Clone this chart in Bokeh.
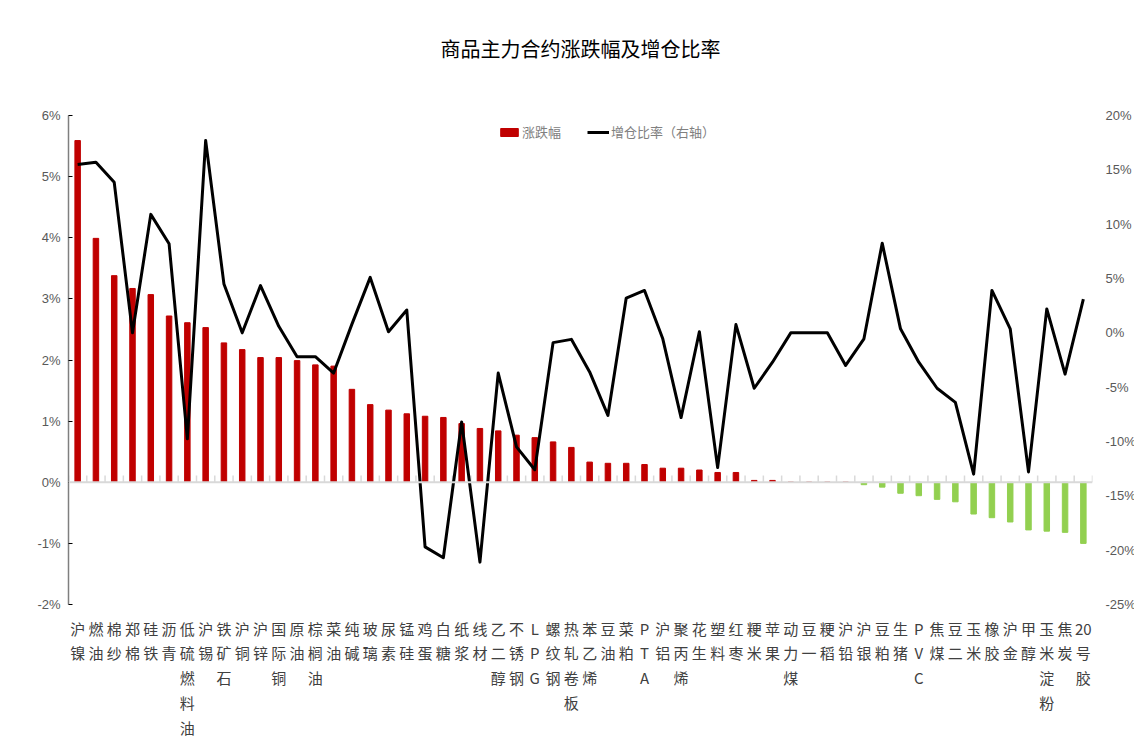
from bokeh.plotting import figure
from bokeh.models import (Range1d, LinearAxis, FixedTicker, Span, Legend, LegendItem,
                          CustomJSTickFormatter, Title)
from bokeh.embed import file_html
from bokeh.resources import INLINE

chart_title = "商品主力合约涨跌幅及增仓比率"

categories = ["沪镍", "燃油", "棉纱", "郑棉", "硅铁", "沥青", "低硫燃料油", "沪锡", "铁矿石", "沪铜",
              "沪锌", "国际铜", "原油", "棕榈油", "菜油", "纯碱", "玻璃", "尿素", "锰硅", "鸡蛋",
              "白糖", "纸浆", "线材", "乙二醇", "不锈钢", "LPG", "螺纹钢", "热轧卷板", "苯乙烯", "豆油",
              "菜粕", "PTA", "沪铝", "聚丙烯", "花生", "塑料", "红枣", "粳米", "苹果", "动力煤",
              "豆一", "粳稻", "沪铅", "沪银", "豆粕", "生猪", "PVC", "焦煤", "豆二", "玉米",
              "橡胶", "沪金", "甲醇", "玉米淀粉", "焦炭", "20号胶"]

change_pct = [5.59, 3.99, 3.38, 3.17, 3.07, 2.72, 2.61, 2.53, 2.28, 2.17,
              2.04, 2.04, 1.99, 1.92, 1.90, 1.52, 1.27, 1.18, 1.12, 1.08,
              1.06, 0.96, 0.88, 0.84, 0.77, 0.73, 0.66, 0.57, 0.33, 0.31,
              0.31, 0.29, 0.23, 0.23, 0.20, 0.16, 0.16, 0.03, 0.03, 0.0,
              0.0, 0.0, 0.0, -0.04, -0.08, -0.18, -0.22, -0.28, -0.32, -0.52,
              -0.58, -0.65, -0.78, -0.80, -0.82, -1.00]

oi_ratio = [15.5, 15.7, 13.85, 0.0, 10.9, 8.2, -9.75, 17.7, 4.5, 0.0,
            4.35, 0.6, -2.2, -2.2, -3.7, 0.8, 5.1, 0.1, 2.1, -19.7,
            -20.7, -8.2, -21.1, -3.7, -10.5, -12.6, -0.9, -0.6, -3.6, -7.6,
            3.2, 3.9, -0.55, -7.8, 0.1, -12.4, 0.76, -5.1, -2.7, 0.0,
            0.0, 0.0, -3.0, -0.55, 8.25, 0.37, -2.7, -5.1, -6.4, -13.0,
            3.9, 0.37, -12.8, 2.2, -3.8, 3.1]

left_ticks = [-2, -1, 0, 1, 2, 3, 4, 5, 6]
right_ticks = [-25, -20, -15, -10, -5, 0, 5, 10, 15, 20]

n = len(categories)
xs = list(range(n))
bar_colors = ["#C00000" if v >= 0 else "#92D050" for v in change_pct]

x_labels = []
for c in categories:
    parts = []
    buf = ""
    for ch in c:
        if ch.isdigit():
            buf += ch
        else:
            if buf:
                parts.append(buf)
                buf = ""
            parts.append(ch)
    if buf:
        parts.append(buf)
    x_labels.append("\n".join(parts))

p = figure(frame_width=1024, frame_height=489,
           x_range=Range1d(-0.5, n - 0.5), y_range=Range1d(-2, 6),
           output_backend="svg", toolbar_location=None,
           min_border_left=68, min_border_right=40, min_border_top=115, min_border_bottom=122)
p.extra_y_ranges = {"oi": Range1d(-25, 20)}

# spacer between the title and the frame
p.add_layout(Title(text=" ", text_font_size="10px", standoff=40, text_color="white"), "above")

p.title.text = chart_title
p.title.align = "center"
p.title.text_font = "Noto Sans CJK SC"
p.title.text_font_size = "20px"
p.title.text_font_style = "normal"
p.title.text_color = "#000000"
p.title.standoff = 0

p.outline_line_color = None
p.xgrid.grid_line_color = None
p.ygrid.grid_line_color = None
p.background_fill_color = "white"
p.border_fill_color = "white"

# x axis (category labels)
xa = p.xaxis[0]
xa.ticker = FixedTicker(ticks=xs)
xa.formatter = CustomJSTickFormatter(args=dict(labels=x_labels),
                                     code="const i = Math.round(tick); return (i >= 0 && i < labels.length) ? labels[i] : '';")
xa.axis_line_color = None
xa.major_tick_line_color = None
xa.minor_tick_line_color = None
xa.major_label_text_font = "Noto Sans CJK SC"
xa.major_label_text_font_size = "15px"
xa.major_label_text_line_height = 1.19
xa.major_label_text_color = "#404040"
xa.major_label_standoff = 7

# left axis
ya = p.yaxis[0]
ya.ticker = FixedTicker(ticks=left_ticks)
ya.formatter = CustomJSTickFormatter(code="return tick + '%';")
ya.axis_line_color = "#7f7f7f"
ya.axis_line_width = 1.5
ya.major_tick_line_color = "#000000"
ya.major_tick_in = 4
ya.major_tick_out = 0
ya.minor_tick_line_color = None
ya.major_label_text_font = "Liberation Sans"
ya.major_label_text_font_size = "13px"
ya.major_label_text_color = "#595959"
ya.major_label_standoff = 8

# right axis
ra = LinearAxis(y_range_name="oi", ticker=FixedTicker(ticks=right_ticks),
                formatter=CustomJSTickFormatter(code="return tick + '%';"))
ra.axis_line_color = None
ra.major_tick_line_color = None
ra.minor_tick_line_color = None
ra.major_label_text_font = "Liberation Sans"
ra.major_label_text_font_size = "13px"
ra.major_label_text_color = "#595959"
ra.major_label_standoff = 7
p.add_layout(ra, "right")

# zero line with category separators
p.add_layout(Span(location=0, dimension="width", line_color="#d9d9d9", line_width=2))
sep_x = [i - 0.5 for i in range(n + 1)]
p.segment(x0=sep_x, x1=sep_x, y0=[0] * len(sep_x), y1=[0.11] * len(sep_x),
          line_color="#d9d9d9", line_width=1.5)

bars = p.vbar(x=xs, top=change_pct, width=0.3, fill_color=bar_colors, line_color=bar_colors)
line = p.line(x=xs, y=oi_ratio, y_range_name="oi", line_color="#000000", line_width=3,
              line_join="round")

legend = Legend(items=[LegendItem(label="涨跌幅", renderers=[bars]),
                       LegendItem(label="增仓比率（右轴）", renderers=[line])],
                orientation="horizontal", location=(430, 463),
                border_line_color=None, background_fill_alpha=0,
                label_text_font="Noto Sans CJK SC", label_text_font_size="13px",
                label_text_color="#808080", glyph_width=22, glyph_height=10,
                spacing=26, padding=2, margin=0, label_standoff=2)
p.add_layout(legend)

open("out.html", "w").write(file_html(p, INLINE))
